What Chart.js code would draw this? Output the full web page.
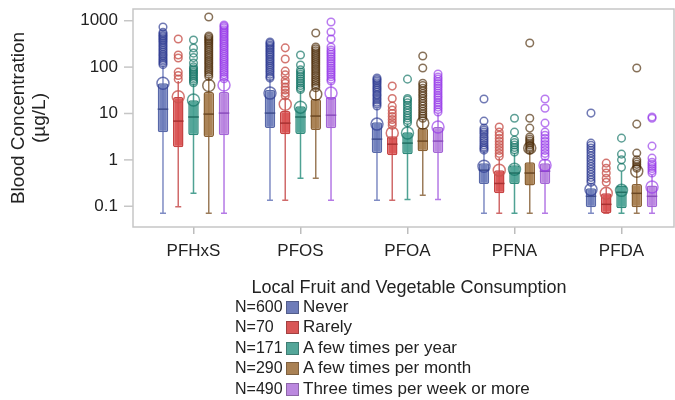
<!DOCTYPE html>
<html>
<head>
<meta charset="utf-8">
<script src="https://cdn.jsdelivr.net/npm/chart.js@4.4.1/dist/chart.umd.min.js"></script>
<style>
  body { margin: 0; background: #fff; }
  #wrap { position: relative; width: 675px; height: 400px; font-family: "Liberation Sans", Arial, sans-serif; color: #222; }
  #legend { position: absolute; left: 0; top: 0; width: 675px; height: 400px; pointer-events: none; }
  .lg-title { position: absolute; left: 409px; top: 277px; transform: translateX(-50%); font-size: 18px; white-space: nowrap; }
  .lg-n { position: absolute; left: 235px; font-size: 16px; white-space: nowrap; }
  .lg-box { position: absolute; left: 286px; width: 11px; height: 11px; border: 1px solid rgba(0,0,0,0.25); }
  .lg-txt { position: absolute; left: 303px; font-size: 17px; white-space: nowrap; }
</style>
</head>
<body>
<div id="wrap">
  <canvas id="box_chart" width="675" height="400"></canvas>
  <div id="legend"></div>
</div>
<script>
// categories and groups
const compounds = ['PFHxS', 'PFOS', 'PFOA', 'PFNA', 'PFDA'];
const groups = ['Never', 'Rarely', 'A few times per year', 'A few times per month', 'Three times per week or more'];
const groupN = [600, 70, 171, 290, 490];
const yTicks = [0.1, 1, 10, 100, 1000];

// box stats, rows = group, columns = compound
const boxQ1 = [
  [3.96, 4.84, 1.4, 0.30, 0.095],
  [1.88, 3.59, 1.26, 0.19, 0.071],
  [3.41, 3.6, 1.33, 0.30, 0.09],
  [3.1, 4.4, 1.53, 0.28, 0.095],
  [3.4, 4.8, 1.4, 0.30, 0.095]
];
const boxQ3 = [
  [45, 32, 6.5, 0.85, 0.245],
  [22.6, 11.3, 3.25, 0.6, 0.19],
  [19.4, 14.4, 3.96, 0.77, 0.28],
  [29, 20.5, 4.84, 0.89, 0.30],
  [29, 22.6, 5.1, 0.85, 0.28]
];
const boxMedian = [
  [12.4, 10.2, 2.8, 0.6, 0.164],
  [6.85, 6.2, 2.18, 0.31, 0.11],
  [8.4, 8.4, 2.3, 0.52, 0.2],
  [9.7, 8.8, 2.54, 0.52, 0.19],
  [10.2, 9.2, 2.54, 0.57, 0.164]
];
const whiskerLow = [
  [0.071, 0.135, 0.135, 0.071, 0.071],
  [0.098, 0.135, 0.135, 0.071, 0.071],
  [0.19, 0.40, 0.14, 0.071, 0.071],
  [0.071, 0.40, 0.173, 0.071, 0.071],
  [0.071, 0.135, 0.14, 0.071, 0.071]
];
const whiskerHigh = [
  [106, 56, 13, 1.55, 0.3],
  [50, 22, 5, 1.1, 0.25],
  [43, 30, 6, 1.4, 0.56],
  [60, 33, 7.5, 1.55, 0.6],
  [52, 45, 10, 1.05, 0.48]
];
const meanValue = [
  [45, 27.5, 5.9, 0.73, 0.23],
  [23, 15.8, 3.8, 0.6, 0.19],
  [19.5, 13.7, 3.8, 0.63, 0.22],
  [40, 26, 6.2, 1.8, 0.57],
  [41, 27.5, 5.1, 0.77, 0.26]
];
const outliers = [
  [
    [735, 560, 520, 480, 450, 420, 390, 360, 330, 300, 275, 250, 228, 208, 190, 175, 160, 146, 134, 123, 113],
    [348, 325, 300, 278, 255, 235, 215, 197, 180, 165, 150, 137, 125, 114, 104, 95, 86, 78, 70, 63, 58],
    [58, 54, 50, 46, 42, 38, 35, 32, 29, 26, 24, 21.5, 19.5, 17.5, 16, 14.5],
    [20.5, 6.85, 4.84, 4.4, 4.0, 3.6, 3.2, 2.9, 2.6, 2.35, 2.1, 1.9, 1.75, 1.62],
    [10.2, 2.3, 2.05, 1.8, 1.6, 1.4, 1.22, 1.07, 0.94, 0.82, 0.72, 0.63, 0.55, 0.48, 0.42, 0.37, 0.33]
  ],
  [
    [404, 182, 157, 78, 66, 55],
    [260, 150, 82, 68, 52, 45, 37, 32, 27.5, 24],
    [39, 21, 14.4, 11.8, 10, 8.6, 7.4, 6.4, 5.6],
    [5.1, 3.96, 3.4, 2.9, 2.5, 2.15, 1.85, 1.6, 1.38, 1.2],
    [0.85, 0.66, 0.52, 0.40, 0.33]
  ],
  [
    [385, 259, 200, 160, 123, 101, 92, 85, 78, 72, 66, 60, 55, 50, 46],
    [182, 111, 87, 78, 70, 63, 56, 50, 45, 40, 36, 33],
    [55, 21, 19.4, 17, 15, 13.2, 11.6, 10.2, 9, 8, 7.1, 6.3],
    [7.9, 3.96, 2.66, 2.35, 2.1, 1.85, 1.65, 1.47],
    [2.94, 1.33, 1.0, 0.69]
  ],
  [
    [1200, 470, 435, 400, 370, 340, 310, 282, 256, 232, 210, 190, 172, 156, 141, 128, 116, 105, 95, 86, 78, 70, 63],
    [545, 272, 248, 225, 204, 185, 167, 151, 137, 124, 112, 101, 91, 82, 74, 67, 60, 54, 49, 44, 40, 36],
    [174, 96, 45, 40, 35, 31, 27, 24, 21, 18.5, 16.3, 14.4, 12.7, 11.2, 9.9, 8.8, 7.9],
    [331, 7.9, 4.84, 3.1, 2.8, 2.55, 2.3, 2.1, 1.9, 1.75, 1.62],
    [96, 5.9, 1.4, 1.0, 0.9, 0.8, 0.72, 0.66]
  ],
  [
    [810, 760, 700, 640, 585, 535, 490, 445, 405, 370, 335, 305, 278, 252, 228, 207, 188, 170, 154, 140, 127, 115, 104, 94, 85, 77, 69, 62, 56],
    [942, 573, 404, 272, 234, 210, 188, 168, 150, 134, 120, 107, 96, 86, 77, 69, 62, 55, 50],
    [71, 61, 55, 49, 44, 39, 35, 31, 27.5, 24.5, 22, 19.5, 17.3, 15.4, 13.7, 12.2, 10.8],
    [20.5, 13, 6.2, 3.96, 3.4, 2.9, 2.5, 2.15, 1.85, 1.6, 1.38, 1.2],
    [8.4, 7.9, 1.98, 1.09, 0.89, 0.8, 0.72, 0.65, 0.58, 0.52]
  ]
];

// colours
const fillColors = ['rgba(104,120,184,0.92)', 'rgba(216,76,76,0.92)', 'rgba(70,160,145,0.92)', 'rgba(164,122,74,0.92)', 'rgba(182,128,222,0.92)'];
const lineColors = ['#5868a8', '#c84444', '#2f8a7b', '#8a6236', '#a466d6'];
const medianColors = ['#3f4e8e', '#a83232', '#226e62', '#6b4824', '#8a4cbd'];
const whiskerColors = ['#7f8cc4', '#d06a6a', '#4fa294', '#9c7c5a', '#b57ae6'];
const outlierColors = ['rgba(44,58,145,0.68)', 'rgba(200,84,78,0.8)', 'rgba(18,115,100,0.68)', 'rgba(78,46,10,0.68)', 'rgba(148,54,232,0.66)'];
const legendColors = ['#6e7cb9', '#d95757', '#54a699', '#a98154', '#bb88df'];

const FONT = '"Liberation Sans", Arial, sans-serif';

const boxExtras = {
    id: 'boxExtras',
    beforeDatasetsDraw(chart) {
        const ctx = chart.ctx, y = chart.scales.y, area = chart.chartArea;
        ctx.save();
        // frame and y tick marks
        ctx.strokeStyle = '#c6c6c6';
        ctx.lineWidth = 1.5;
        ctx.strokeRect(area.left - 7, area.top, area.right - area.left + 6, area.bottom - area.top);
        yTicks.forEach(v => {
            const py = y.getPixelForValue(v);
            ctx.beginPath();
            ctx.moveTo(area.left - 16, py);
            ctx.lineTo(area.left - 7, py);
            ctx.stroke();
        });
        // whiskers
        chart.data.datasets.forEach((ds, g) => {
            chart.getDatasetMeta(g).data.forEach((bar, c) => {
                const lo = y.getPixelForValue(whiskerLow[g][c]);
                const hi = y.getPixelForValue(whiskerHigh[g][c]);
                ctx.strokeStyle = whiskerColors[g];
                ctx.lineWidth = 1.5;
                ctx.beginPath();
                ctx.moveTo(bar.x, lo);
                ctx.lineTo(bar.x, hi);
                ctx.moveTo(bar.x - 3, lo);
                ctx.lineTo(bar.x + 3, lo);
                ctx.stroke();
            });
        });
        ctx.restore();
    },
    afterDatasetsDraw(chart) {
        const ctx = chart.ctx, y = chart.scales.y;
        ctx.save();
        chart.data.datasets.forEach((ds, g) => {
            chart.getDatasetMeta(g).data.forEach((bar, c) => {
                const half = bar.width / 2;
                // median
                const pm = y.getPixelForValue(boxMedian[g][c]);
                ctx.strokeStyle = medianColors[g];
                ctx.lineWidth = 1.5;
                ctx.beginPath();
                ctx.moveTo(bar.x - half, pm);
                ctx.lineTo(bar.x + half, pm);
                ctx.stroke();
                // outliers
                ctx.strokeStyle = outlierColors[g];
                ctx.lineWidth = 1.5;
                outliers[g][c].forEach(v => {
                    ctx.beginPath();
                    ctx.arc(bar.x, y.getPixelForValue(v), 3.8, 0, Math.PI * 2);
                    ctx.stroke();
                });
                // mean marker
                ctx.beginPath();
                ctx.arc(bar.x, y.getPixelForValue(meanValue[g][c]), 6, 0, Math.PI * 2);
                ctx.stroke();
            });
        });
        ctx.restore();
    }
};

const box_chart = document.getElementById('box_chart');

let chart = new Chart(box_chart, {
    type: 'bar',
    data: {
        labels: compounds,
        datasets: groups.map((name, g) => ({
            label: name,
            data: boxQ1[g].map((v, c) => [v, boxQ3[g][c]]),
            backgroundColor: fillColors[g],
            borderColor: lineColors[g],
            borderWidth: 1.5,
            borderSkipped: false,
            borderRadius: 2,
            categoryPercentage: 0.713,
            barPercentage: 0.69
        }))
    },
    options: {
        responsive: false,
        animation: false,
        devicePixelRatio: 1,
        layout: { padding: { top: 9, left: 0, right: 0, bottom: 0 } },
        plugins: {
            legend: { display: false },
            tooltip: { enabled: false }
        },
        scales: {
            x: {
                offset: true,
                grid: { display: true, drawOnChartArea: false, drawTicks: true, tickLength: 7, offset: false, color: '#bdbdbd', lineWidth: 1.5 },
                border: { display: false },
                ticks: { color: '#222', padding: 7, font: { family: FONT, size: 17 } },
                afterFit(scale) {
                    scale.height = 173;
                    scale.paddingLeft = 0;
                    scale.paddingRight = 0;
                }
            },
            y: {
                type: 'logarithmic',
                min: 0.0357,
                max: 1790,
                afterBuildTicks(scale) { scale.ticks = yTicks.map(v => ({ value: v })); },
                grid: { display: false, drawTicks: false },
                border: { display: false },
                ticks: {
                    color: '#222',
                    padding: 22,
                    font: { family: FONT, size: 17 },
                    callback: function(value) { return String(value); }
                },
                title: {
                    display: true,
                    text: ['Blood Concentration', '(\u00B5g/L)'],
                    color: '#222',
                    font: { family: FONT, size: 19, lineHeight: 1.1 },
                    padding: { top: 8, bottom: 0 }
                },
                afterFit(scale) {
                    scale.width = 140;
                    scale.paddingTop = 0;
                    scale.paddingBottom = 0;
                }
            }
        }
    },
    plugins: [boxExtras]
});

// legend with group sizes
const legend = document.getElementById('legend');
let html = '<div class="lg-title">Local Fruit and Vegetable Consumption</div>';
const rowTop = 297;
const rowStep = 20.4;
groups.forEach((name, g) => {
    const top = rowTop + g * rowStep;
    html += '<div class="lg-n" style="top:' + (top + 1) + 'px">N=' + groupN[g] + '</div>';
    html += '<div class="lg-box" style="top:' + (top + 4) + 'px;background:' + legendColors[g] + '"></div>';
    html += '<div class="lg-txt" style="top:' + top + 'px">' + name + '</div>';
});
legend.innerHTML = html;
</script>
</body>
</html>
